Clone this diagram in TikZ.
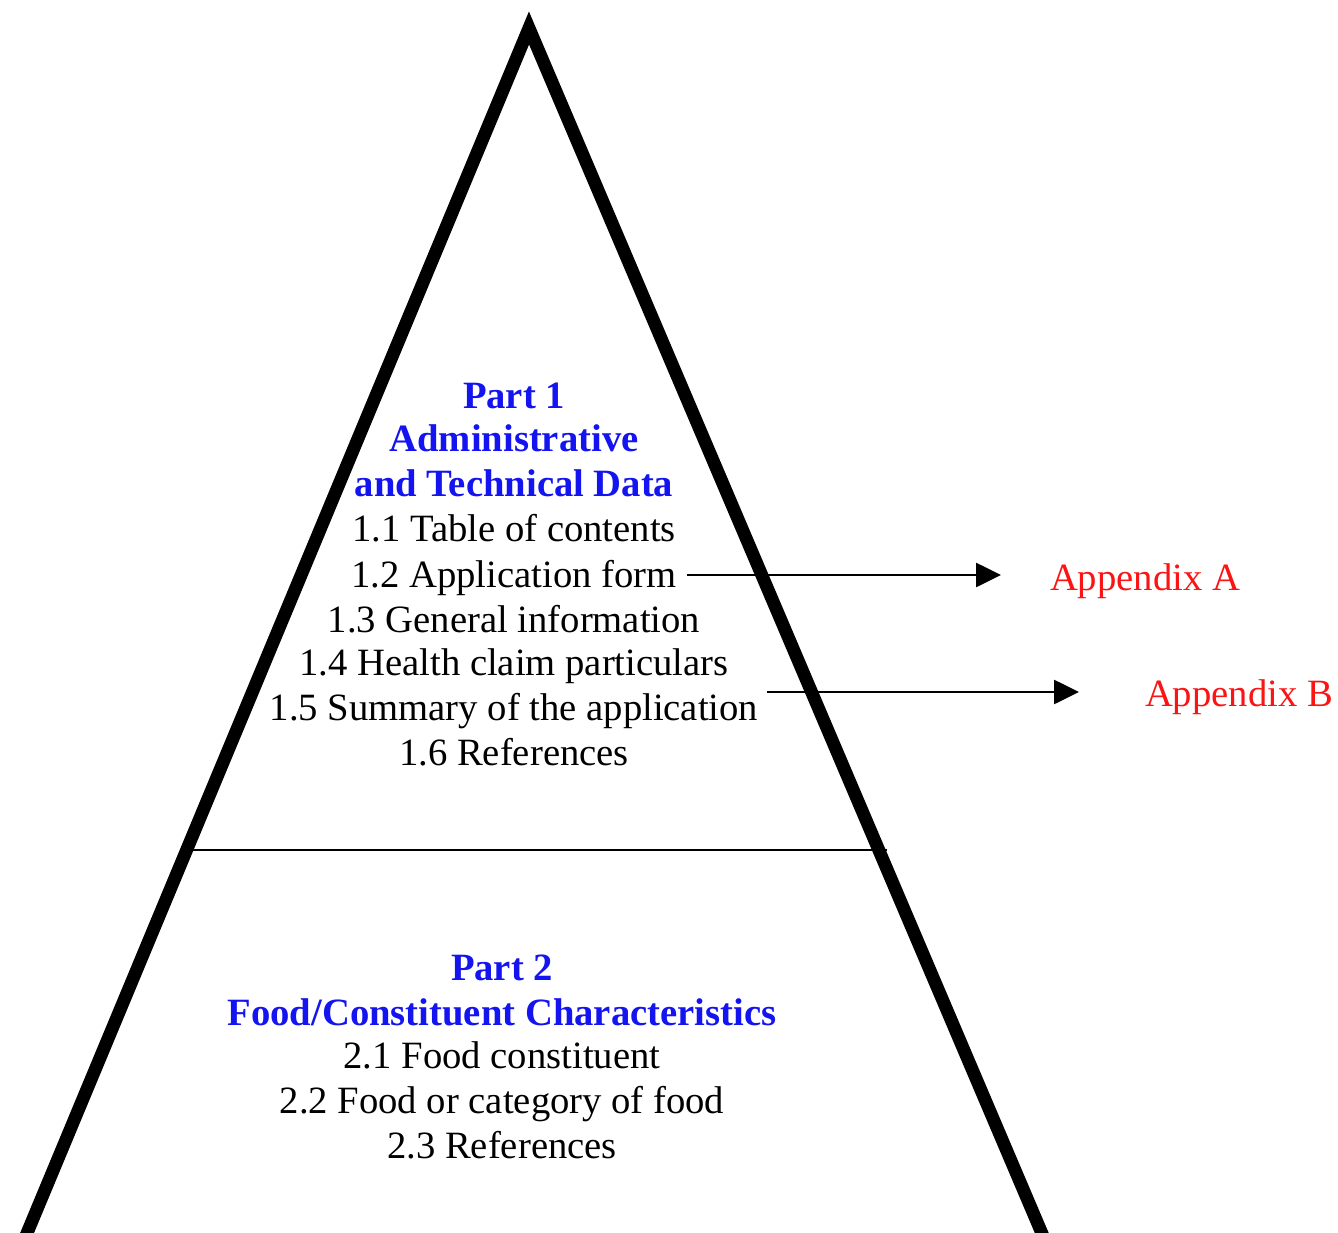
\documentclass[tikz,border=0pt]{standalone}
\usepackage{fontspec}
\setmainfont{Liberation Serif}
\usetikzlibrary{arrows.meta}
\definecolor{hblue}{RGB}{20,20,240}
\definecolor{hred}{RGB}{250,20,20}
\tikzset{
  txt/.style={font=\fontsize{22}{26}\selectfont, inner sep=0pt, anchor=base},
  head/.style={txt, font=\fontsize{22}{26}\selectfont\bfseries, text=hblue},
  apx/.style={txt, text=hred},
  arr/.style={line width=1.5pt, -{Triangle[length=0.5cm,width=0.48cm]}},
  edge/.style={line width=7.3pt, line join=miter, miter limit=20},
}
\begin{document}
\begin{tikzpicture}[x=0.02cm,y=-0.02cm]
\clip (0,0) rectangle (1338,1233);
\fill[white] (0,0) rectangle (1338,1233);
% pyramid
\draw[edge] (20,1250) -- (529,28) -- (1049,1250);
\coordinate (dl) at (188,850);
\coordinate (dr) at (887,850);
\draw[line width=1.5pt] (dl) -- (dr);
% Part 1
\node[head] (p1a) at (514,408) {Part 1};
\node[head] (p1b) at (514,451) {Administrative};
\node[head] (p1c) at (514,496) {and Technical Data};
\node[txt] (l11) at (514,541) {1.1 Table of contents};
\node[txt] (l12) at (514,587) {1.2 Application form};
\node[txt] (l13) at (514,632) {1.3 General information};
\node[txt] (l14) at (514,675) {1.4 Health claim particulars};
\node[txt] (l15) at (514,720) {1.5 Summary of the application};
\node[txt] (l16) at (514,765) {1.6 References};
% Part 2
\node[head] (p2a) at (502,980) {Part 2};
\node[head] (p2b) at (502,1025) {Food/Constituent Characteristics};
\node[txt] (l21) at (502,1068) {2.1 Food constituent};
\node[txt] (l22) at (502,1113) {2.2 Food or category of food};
\node[txt] (l23) at (502,1158) {2.3 References};
% appendices
\node[apx] (appA) at (1145,590) {Appendix A};
\node[apx] (appB) at (1239,706) {Appendix B};
\coordinate (tipA) at (1001,575);
\coordinate (tipB) at (1079,692);
\draw[arr, shorten <=0.2cm] (l12.east |- tipA) -- (tipA);
\draw[arr, shorten <=0.16cm] (l15.east |- tipB) -- (tipB);
\end{tikzpicture}
\end{document}
